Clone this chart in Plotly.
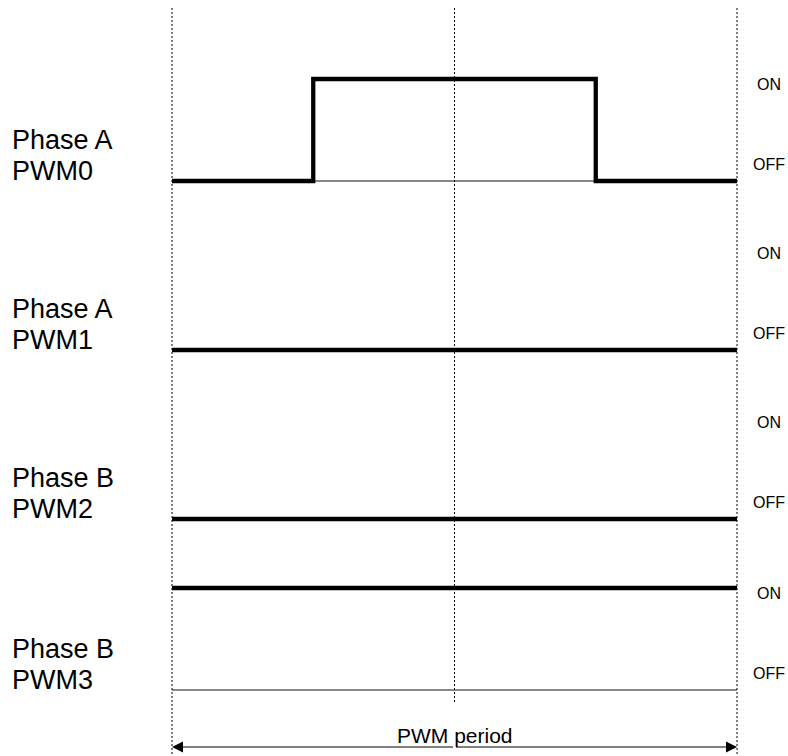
import plotly.graph_objects as go

# ---- data ----
t_edges = [0.0, 0.25, 0.75, 1.0]          # time within one PWM period
pwm0 = [0, 1, 0, 0]
pwm1 = [0, 0, 0, 0]
pwm2 = [0, 0, 0, 0]
pwm3 = [1, 1, 1, 1]
signals = [pwm0, pwm1, pwm2, pwm3]
phase_labels = ["Phase A", "Phase A", "Phase B", "Phase B"]
pwm_labels = ["PWM0", "PWM1", "PWM2", "PWM3"]
state_labels = ["ON", "OFF"]
period_label = "PWM period"
markers = [0.0, 0.5, 1.0]

# ---- layout geometry (pixels) ----
W, H = 788, 756
X0, X1 = 172, 737           # pixel positions of t=0 and t=1
span = X1 - X0
off_y = [181, 350, 519, 690]
amp = 102
FONT = "Arial, Liberation Sans, sans-serif"

fig = go.Figure()

for i, sig in enumerate(signals):
    base = off_y[i]
    fig.add_trace(go.Scatter(x=[t_edges[0], t_edges[-1]], y=[base, base], mode="lines",
                             line=dict(color="#111", width=1.2), hoverinfo="skip", showlegend=False))
    ys = [base - v * amp for v in sig]
    fig.add_trace(go.Scatter(x=t_edges, y=ys, mode="lines", line_shape="hv",
                             line=dict(color="black", width=4.3), hoverinfo="skip", showlegend=False))
    fig.add_annotation(x=10 / W, xref="paper", y=base - 41, yref="y", text=phase_labels[i],
                       showarrow=False, xanchor="left", yanchor="middle",
                       font=dict(family=FONT, size=27, color="black"))
    fig.add_annotation(x=10 / W, xref="paper", y=base - 10, yref="y", text=pwm_labels[i],
                       showarrow=False, xanchor="left", yanchor="middle",
                       font=dict(family=FONT, size=27, color="black"))
    fig.add_annotation(x=769 / W, xref="paper", y=base - amp + 5, yref="y",
                       text=state_labels[0], showarrow=False, xanchor="center", yanchor="middle",
                       font=dict(family=FONT, size=16, color="black"))
    fig.add_annotation(x=769 / W, xref="paper", y=base - 17, yref="y",
                       text=state_labels[1], showarrow=False, xanchor="center", yanchor="middle",
                       font=dict(family=FONT, size=16, color="black"))

for m in markers:
    y_end = 702 if m == 0.5 else 754
    fig.add_shape(type="line", x0=m, x1=m, y0=8, y1=y_end, xref="x", yref="y",
                  line=dict(color="black", width=1, dash="2px,2px"))

ARROW_Y = 747
mid = (markers[0] + markers[-1]) / 2
for end in (markers[0], markers[-1]):
    fig.add_annotation(x=end, y=ARROW_Y, ax=mid, ay=ARROW_Y, xref="x", yref="y",
                       axref="x", ayref="y", text="", showarrow=True,
                       arrowhead=2, arrowsize=2.2, arrowwidth=1, arrowcolor="black")
fig.add_annotation(x=mid, y=735, xref="x", yref="y", text=period_label, showarrow=False,
                   xanchor="center", yanchor="middle",
                   font=dict(family=FONT, size=21, color="black"))

fig.update_layout(
    width=W, height=H, margin=dict(l=0, r=0, t=0, b=0),
    paper_bgcolor="white", plot_bgcolor="white", showlegend=False,
    xaxis=dict(range=[-X0 / span, (W - X0) / span], visible=False, fixedrange=True),
    yaxis=dict(range=[H, 0], visible=False, fixedrange=True),
)

fig.write_html(
    "out.html",
    config={"displayModeBar": False, "staticPlot": True},
    post_script=(
        "document.body.style.margin='0';"
        "document.body.style.overflow='hidden';"
        "document.documentElement.style.overflow='hidden';"
    ),
)
